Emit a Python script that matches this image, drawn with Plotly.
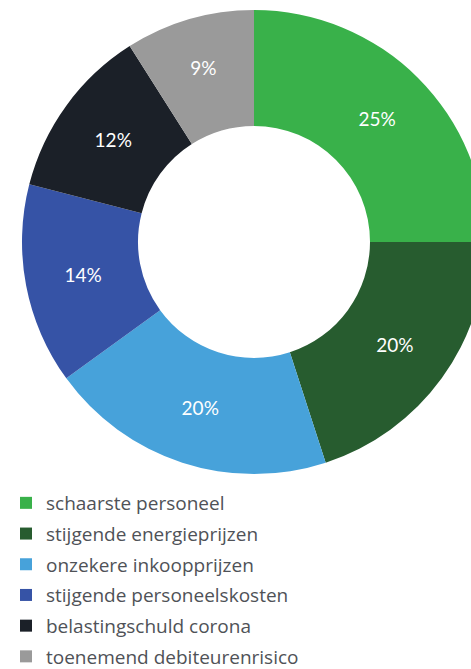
import plotly.graph_objects as go

categories = ["schaarste personeel", "stijgende energieprijzen", "onzekere inkoopprijzen",
              "stijgende personeelskosten", "belastingschuld corona", "toenemend debiteurenrisico"]
values = [25, 20, 20, 14, 12, 9]
colors = ["#39b14a", "#275c2f", "#47a2da", "#3653a6", "#1b2028", "#9a9a9a"]

W, H = 500, 669
fig = go.Figure()
fig.add_trace(go.Pie(
    labels=categories, values=values, sort=False, direction="clockwise", rotation=0,
    hole=0.5, marker=dict(colors=colors, line=dict(width=0)),
    textinfo="percent", textposition="inside", insidetextorientation="horizontal",
    textfont=dict(family="Lato", size=19, color="white"),
    showlegend=False, hoverinfo="label+percent",
    domain=dict(x=[22 / W, 486 / W], y=[(H - 474) / H, (H - 10) / H]),
))
for i, (c, col) in enumerate(zip(categories, colors)):
    fig.add_trace(go.Scatter(x=[None], y=[None], mode="markers", name=c,
                             marker=dict(symbol="square", size=12, color=col),
                             legendgroup=f"g{i}", showlegend=True))

fig.update_layout(
    width=W, height=H, margin=dict(l=0, r=0, t=0, b=0, autoexpand=False),
    paper_bgcolor="white", plot_bgcolor="white",
    xaxis=dict(visible=False), yaxis=dict(visible=False),
    legend=dict(x=6 / W, xanchor="left", y=(H - 484) / H, yanchor="top",
                font=dict(family="Open Sans", size=19, color="#4f5257"),
                tracegroupgap=3, itemsizing="constant"),
)
fig.write_html("out.html", config={"displayModeBar": False},
               post_script="document.body.style.margin='0';document.body.style.overflow='hidden';")
